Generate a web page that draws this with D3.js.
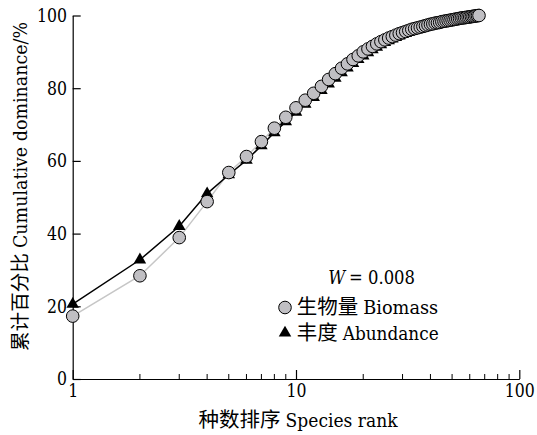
<!DOCTYPE html>
<html>
<head>
<meta charset="utf-8">
<script src="https://cdn.jsdelivr.net/npm/d3@7"></script>
<style>
  body { margin: 0; background: #fff; }
  svg text { fill: #000; }
</style>
</head>
<body>
<div id="chart"></div>
<script>
// species rank 1..66
const ranks = [
  1, 2, 3, 4, 5, 6, 7, 8, 9, 10, 11, 12, 13, 14, 15, 16, 17, 18, 19, 20, 21, 22,
  23, 24, 25, 26, 27, 28, 29, 30, 31, 32, 33, 34, 35, 36, 37, 38, 39, 40, 41, 42, 43, 44,
  45, 46, 47, 48, 49, 50, 51, 52, 53, 54, 55, 56, 57, 58, 59, 60, 61, 62, 63, 64, 65, 66
]
const biomass = [
  17.3, 28.4, 38.9, 48.8, 56.8, 61.2, 65.3, 69.0, 72.0, 74.6, 76.7, 78.6, 80.5, 82.4, 84.0, 85.5, 86.7, 87.9, 88.9, 90.0, 90.8, 91.5,
  92.2, 92.8, 93.3, 93.8, 94.2, 94.6, 95.0, 95.3, 95.6, 95.9, 96.2, 96.4, 96.6, 96.8, 97.0, 97.2, 97.4, 97.6, 97.7, 97.9, 98.0, 98.1,
  98.3, 98.4, 98.5, 98.6, 98.7, 98.8, 98.9, 99.0, 99.1, 99.2, 99.3, 99.35, 99.4, 99.5, 99.55, 99.6, 99.7, 99.75, 99.8, 99.9, 99.95, 100
]
const abundance = [
  20.6, 32.8, 42.0, 51.0, 56.2, 60.2, 64.2, 67.8, 70.8, 73.4, 75.6, 77.5, 79.4, 81.2, 82.8, 84.3, 85.6, 86.8, 87.9, 88.9, 89.8, 90.6,
  91.3, 92.0, 92.6, 93.1, 93.6, 94.0, 94.4, 94.8, 95.1, 95.4, 95.7, 96.0, 96.2, 96.4, 96.6, 96.8, 97.0, 97.2, 97.4, 97.5, 97.7, 97.8,
  98.0, 98.1, 98.2, 98.4, 98.5, 98.6, 98.7, 98.8, 98.9, 99.0, 99.1, 99.2, 99.3, 99.35, 99.45, 99.5, 99.6, 99.7, 99.75, 99.85, 99.9, 100
]
const xMajor = [1, 10, 100]
const xMinor = [2, 3, 4, 5, 6, 7, 8, 9, 20, 30, 40, 50, 60, 70, 80, 90]
const yTicks = [0, 20, 40, 60, 80, 100]

// no Times here: DejaVu Serif squeezed to Times-like widths
const serif = '"DejaVu Serif", serif'
const cjk = '"DejaVu Serif", "Noto Sans CJK SC", sans-serif'
const digitW = 10

let width = 537, height = 435
let margin = {top: 15.5, right: 17.7, bottom: 56, left: 72.7}

let svg = d3.select('#chart').append('svg')
    .attr('width', width)
    .attr('height', height)
    .attr('font-family', serif)

let x = d3.scaleLog().domain([1, 100]).range([margin.left, width - margin.right])
let y = d3.scaleLinear().domain([0, 100]).range([height - margin.bottom, margin.top])

let squeeze = (sel, len) => sel.attr('textLength', len).attr('lengthAdjust', 'spacingAndGlyphs')

// CJK part + latin part side by side, latin squeezed to a set width
let mixed = (g, x0, y0, zh, en, zhSize, enLen) => {
    g.append('text').attr('x', x0).attr('y', y0)
        .attr('font-family', cjk).attr('font-size', zhSize)
        .text(zh)
    squeeze(g.append('text').attr('x', x0 + zh.length * zhSize + 5).attr('y', y0)
        .attr('font-family', serif).attr('font-size', 19)
        .text(en), enLen)
}

// axes (ticks point inward)
let xAxis = svg.append('g')
    .attr('transform', `translate(0,${y(0)})`)
    .call(d3.axisBottom(x).tickValues(xMajor).tickSizeInner(-9).tickSizeOuter(0).tickFormat(d3.format('d')))
xAxis.attr('font-family', serif)
xAxis.selectAll('text').attr('y', 5.5).attr('font-size', 18)
    .each(function(d) { squeeze(d3.select(this), String(d).length * digitW) })
xAxis.selectAll('g.minor')
    .data(xMinor).enter().append('line')
    .attr('x1', (d) => x(d)).attr('x2', (d) => x(d))
    .attr('y1', 0).attr('y2', -5)
    .attr('stroke', '#000')

let yAxis = svg.append('g')
    .attr('transform', `translate(${x(1)},0)`)
    .call(d3.axisLeft(y).tickValues(yTicks).tickSizeInner(-8).tickSizeOuter(0))
yAxis.attr('font-family', serif)
yAxis.selectAll('text').attr('x', -5.7).attr('font-size', 18.5)
    .each(function(d) { squeeze(d3.select(this), String(d).length * digitW) })

svg.selectAll('.domain, .tick line').attr('stroke', '#000').attr('stroke-width', 1.2)

// axis titles
mixed(svg.append('g'), 198.6, 427, '种数排序', 'Species rank', 20.5, 112)
mixed(svg.append('g').attr('transform', 'translate(27,351) rotate(-90)'), 0, 0,
    '累计百分比', 'Cumulative dominance/%', 19.6, 226)

// lines
let line = (vals) => d3.line()
    .x((d, i) => x(ranks[i]))
    .y((d) => y(d))(vals)

svg.append('path')
    .attr('d', line(biomass))
    .attr('fill', 'none')
    .attr('stroke', '#c6c6c6')
    .attr('stroke-width', 1.5)

svg.append('path')
    .attr('d', line(abundance))
    .attr('fill', 'none')
    .attr('stroke', '#000')
    .attr('stroke-width', 1.5)

let tri = d3.symbol().type(d3.symbolTriangle).size(68)

svg.selectAll('.tri')
    .data(abundance).enter().append('path')
    .attr('class', 'tri')
    .attr('d', tri)
    .attr('transform', (d, i) => `translate(${x(ranks[i])},${y(d)})`)
    .attr('fill', '#000')

svg.selectAll('.dot')
    .data(biomass).enter().append('circle')
    .attr('class', 'dot')
    .attr('cx', (d, i) => x(ranks[i]))
    .attr('cy', (d) => y(d))
    .attr('r', 6.3)
    .attr('fill', '#c0bfc3')
    .attr('stroke', '#000')
    .attr('stroke-width', 1)

// legend
let leg = svg.append('g')
squeeze(leg.append('text').attr('x', 328.3).attr('y', 284).attr('font-size', 19)
    .attr('font-style', 'italic').text('W'), 17)
squeeze(leg.append('text').attr('x', 349).attr('y', 284).attr('font-size', 19)
    .text('= 0.008'), 66)

leg.append('circle')
    .attr('cx', 285).attr('cy', 307.5).attr('r', 6.3)
    .attr('fill', '#c0bfc3').attr('stroke', '#000')
mixed(leg, 296.7, 314, '生物量', 'Biomass', 20.5, 75)

leg.append('path')
    .attr('d', tri)
    .attr('transform', 'translate(285,333)')
    .attr('fill', '#000')
mixed(leg, 296.7, 340, '丰度', 'Abundance', 20.5, 96)
</script>
</body>
</html>
